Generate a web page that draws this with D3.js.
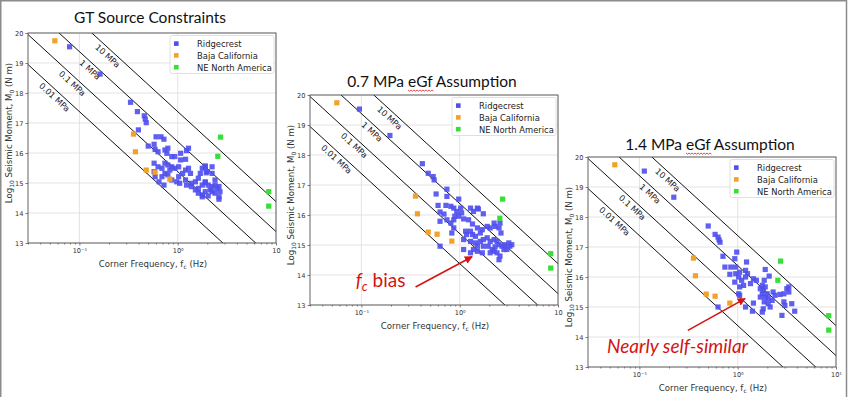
<!DOCTYPE html>
<html>
<head>
<meta charset="utf-8">
<script src="https://cdn.jsdelivr.net/npm/d3@7"></script>
<style>
  body { margin: 0; background: #fff; }
  svg { display: block; }
</style>
</head>
<body>
<script>
let w = 850;
let h = 397;
let plotW = 248;
let plotH = 210;

// each point: [log10 corner frequency (Hz), log10 seismic moment (N m)]
const gtRidgecrest = [
  [-1.10,19.54],[-0.79,18.63],[-0.48,17.69],[-0.41,17.38],[-0.34,17.24],[-0.33,17.13],[-0.32,17.01],
  [-0.40,16.77],[-0.30,16.23],[-0.22,16.54],[-0.17,16.54],[-0.14,16.46],[-0.24,16.29],[-0.23,16.12],
  [-0.20,16.04],[-0.13,16.10],[-0.10,16.16],[-0.11,15.99],[-0.06,15.88],[-0.03,15.88],[0.03,15.99],
  [0.09,16.08],[0.11,16.16],[0.08,15.79],[0.03,15.77],[-0.24,15.66],[-0.20,15.54],[-0.16,15.49],
  [-0.13,15.66],[-0.10,15.60],[-0.06,15.54],[-0.08,15.43],[-0.03,15.49],[0.01,15.54],[-0.13,15.32],
  [-0.16,15.21],[-0.10,15.27],[-0.23,15.21],[-0.24,15.38],[-0.19,15.04],[-0.14,14.93],[-0.06,15.10],
  [0.01,15.21],[0.05,15.32],[0.08,15.43],[0.11,15.49],[0.13,15.32],[0.08,15.10],[0.02,14.99],
  [-0.01,15.04],[0.09,14.93],[0.14,14.99],[0.18,15.04],[0.21,15.16],[0.23,15.32],[0.25,15.49],
  [0.28,15.54],[0.30,15.38],[0.35,15.54],[0.35,15.32],[0.14,14.88],[0.18,14.77],[0.21,14.82],
  [0.25,14.93],[0.28,15.01],[0.31,14.93],[0.35,14.88],[0.21,14.66],[0.25,14.60],[0.28,14.71],
  [0.33,14.77],[0.38,14.66],[0.42,14.54],[0.43,14.71],[0.38,15.10],[0.28,15.04],[0.38,14.93],
  [0.40,14.82],[0.42,14.88],[0.25,14.54],[0.31,14.57],[0.42,14.46],[0.35,14.71],[0.29,15.34],
  [0.28,15.57]
];

const egf07Ridgecrest = [
  [-1.02,19.53],[-0.71,18.65],[-0.38,17.71],[-0.32,17.39],[-0.27,17.28],[-0.26,17.17],[-0.24,16.70],
  [-0.22,16.32],[-0.14,16.32],[-0.13,16.62],[-0.13,16.86],[-0.20,16.10],[-0.16,16.03],[-0.20,15.79],
  [-0.20,14.96],[-0.09,16.29],[-0.06,16.23],[-0.03,16.12],[-0.01,16.53],[0.01,16.23],[-0.05,15.96],
  [-0.01,15.96],[0.02,16.07],[0.11,16.23],[0.14,16.12],[0.18,16.23],[0.19,16.20],[0.24,16.04],
  [-0.13,15.84],[-0.06,15.84],[-0.09,15.73],[0.04,15.87],[0.09,15.84],[-0.06,15.57],[-0.08,15.40],
  [0.04,15.18],[0.06,15.46],[0.11,15.46],[0.13,15.70],[0.18,15.57],[0.07,15.35],[0.13,15.35],
  [0.16,15.29],[0.21,15.40],[0.23,15.51],[0.28,15.62],[0.31,15.57],[0.35,15.73],[0.36,15.62],
  [0.40,15.57],[0.41,15.73],[0.42,15.40],[0.11,15.12],[0.16,15.07],[0.18,14.96],[0.21,15.12],
  [0.24,15.18],[0.28,15.24],[0.31,15.12],[0.35,15.18],[0.38,15.12],[0.24,14.96],[0.29,14.96],
  [0.33,14.85],[0.36,14.94],[0.40,15.01],[0.43,14.96],[0.46,15.01],[0.50,15.07],[0.51,14.96],
  [0.53,15.01],[0.45,14.85],[0.35,14.79],[0.31,14.74],[0.38,14.74],[0.41,14.63],[0.40,14.51],
  [0.23,14.74],[0.18,14.79],[0.14,14.85],[0.04,14.85],[0.11,14.74],[0.48,14.85]
];

const egf14Ridgecrest = [
  [-0.95,19.53],[-0.65,18.66],[-0.30,17.70],[-0.23,17.42],[-0.20,17.33],[-0.19,17.24],[-0.18,17.16],
  [-0.15,16.69],[-0.13,16.33],[-0.08,16.09],[-0.03,16.61],[-0.02,16.33],[-0.07,16.33],[-0.01,16.83],
  [-0.03,15.83],[-0.02,16.11],[0.02,16.16],[0.01,16.00],[0.09,16.50],[0.08,16.22],[0.10,16.11],
  [0.08,16.00],[0.04,15.89],[0.06,15.72],[0.02,15.67],[0.01,15.44],[0.02,15.39],[0.13,15.78],
  [0.16,15.94],[0.19,15.89],[0.28,16.25],[0.32,16.03],[0.27,15.89],[0.25,15.72],[0.28,15.67],
  [0.25,15.44],[0.30,15.44],[0.23,15.33],[0.28,15.33],[0.31,15.28],[0.36,15.50],[0.35,15.22],
  [0.38,15.39],[0.43,15.42],[0.47,15.44],[0.50,15.61],[0.52,15.67],[0.52,15.50],[0.55,15.11],
  [0.58,14.86],[0.47,15.17],[0.48,15.05],[0.45,14.72],[0.26,14.94],[0.31,15.11],[0.33,15.00],
  [0.27,15.17],[0.25,14.83],[0.16,15.13],[0.15,14.86],[0.08,15.00],[-0.20,15.00],[0.23,15.61],
  [0.26,15.55]
];

const bajaCalifornia = [[-1.25,19.74],[-0.45,16.63],[-0.43,16.04],[-0.32,15.43],[-0.23,15.36],[-0.08,15.13]];
const neNorthAmerica = [[0.436,16.53],[0.408,15.89],[0.926,14.71],[0.926,14.23]];

const seriesNames = ["Ridgecrest", "Baja California", "NE North America"];
const seriesColors = ["#4f4fee", "#f2a22a", "#36e036"];

// constant stress-drop lines: log10 M0 = 16.38 + log10(stress / 1 MPa) - 3 log10(fc)
const stressDrops = [0.01, 0.1, 1, 10];
const stressLabels = ["0.01 MPa", "0.1 MPa", "1 MPa", "10 MPa"];
const stressLabelLogFc = [-1.21, -1.03, -0.85, -0.67];
const moment1MPa = 16.38;

const yTicks = [13, 14, 15, 16, 17, 18, 19, 20];
const xMajor = [0.1, 1, 10];
const xMinor = [0.03,0.04,0.05,0.06,0.07,0.08,0.09,0.2,0.3,0.4,0.5,0.6,0.7,0.8,0.9,2,3,4,5,6,7,8,9];

const titles = ["GT Source Constraints", "0.7 MPa eGf Assumption", "1.4 MPa eGf Assumption"];

const panels = [
  { left: 28, top: 33, title: titles[0], titleY: -10, pts: gtRidgecrest, xLabels: ["10\u207B\u00B9", "10\u2070", "10"] },
  { left: 310, top: 95, title: titles[1], titleY: -8, pts: egf07Ridgecrest, xLabels: ["10\u207B\u00B9", "10\u2070", "10"],
    note: { text: "bias", at: [-1.058, 13.60], arrow: [[-0.449, 13.60], [0.126, 14.61]] } },
  { left: 588, top: 157, title: titles[2], titleY: -7, pts: egf14Ridgecrest, xLabels: ["10\u207B\u00B9", "10\u2070", "10\u00B9"],
    note: { text: "Nearly self-similar", at: [-1.33, 13.48], arrow: [[-0.507, 14.22], [0.075, 15.28]] } }
];

const font = "'DejaVu Sans', Verdana, sans-serif";

const svg = d3.select("body")
              .append("svg")
              .attr("width", w)
              .attr("height", h)
              .style("background-color", "white");

svg.append("defs").append("marker")
   .attr("id", "redhead")
   .attr("viewBox", "0 0 10 10")
   .attr("refX", 9).attr("refY", 5)
   .attr("markerWidth", 5).attr("markerHeight", 5)
   .attr("orient", "auto")
   .append("path")
   .attr("d", "M0,0 L10,5 L0,10 z")
   .attr("fill", "#d21414");

// slide frame
svg.append("path")
   .attr("d", "M0.75," + h + " V0.75 H846.5 V" + h)
   .attr("fill", "none")
   .attr("stroke", "#8c8c8c")
   .attr("stroke-width", 1.5);

function drawPanel(p, idx) {
  const g = svg.append("g").attr("transform", "translate(" + p.left + "," + p.top + ")");
  const x = d3.scaleLog().domain([0.03, 10]).range([0, plotW]);
  const y = d3.scaleLinear().domain([13, 20]).range([plotH, 0]);

  g.selectAll(".gy").data(yTicks).enter().append("line")
   .attr("x1", 0).attr("x2", plotW)
   .attr("y1", d => y(d)).attr("y2", d => y(d))
   .attr("stroke", "#dcdcdc").attr("stroke-width", 0.8);
  g.selectAll(".gx").data(xMajor).enter().append("line")
   .attr("x1", d => x(d)).attr("x2", d => x(d))
   .attr("y1", 0).attr("y2", plotH)
   .attr("stroke", "#dcdcdc").attr("stroke-width", 0.8);

  g.append("clipPath").attr("id", "clip" + idx)
   .append("rect").attr("width", plotW).attr("height", plotH);
  const inner = g.append("g").attr("clip-path", "url(#clip" + idx + ")");

  const line = d3.line().x(d => x(d[0])).y(d => y(d[1]));
  const m0 = (s, fc) => moment1MPa + Math.log10(s) - 3 * Math.log10(fc);
  const ang = Math.atan2(y(m0(1, 10)) - y(m0(1, 1)), x(10) - x(1)) * 180 / Math.PI;

  stressDrops.forEach((s, i) => {
    inner.append("path")
         .datum([[0.03, m0(s, 0.03)], [10, m0(s, 10)]])
         .attr("d", line)
         .attr("fill", "none")
         .attr("stroke", "#111")
         .attr("stroke-width", 1);
    const fc = Math.pow(10, stressLabelLogFc[i]);
    g.append("text")
     .attr("transform", "translate(" + x(fc) + "," + y(m0(s, fc)) + ") rotate(" + ang + ")")
     .attr("dy", "1.1em")
     .attr("text-anchor", "middle")
     .style("font-family", font)
     .style("font-size", "8.3px")
     .style("fill", "#222")
     .text(stressLabels[i]);
  });

  const groups = [p.pts, bajaCalifornia, neNorthAmerica];
  const sz = 5.2;
  groups.forEach((pts, k) => {
    inner.selectAll(".pt" + k).data(pts).enter().append("rect")
         .attr("x", d => x(Math.pow(10, d[0])) - sz / 2)
         .attr("y", d => y(d[1]) - sz / 2)
         .attr("width", sz).attr("height", sz)
         .style("fill", seriesColors[k])
         .style("opacity", k === 0 ? 0.9 : 1);
  });

  // axes
  const yAxis = d3.axisLeft(y).tickValues(yTicks).tickSize(2.5).tickPadding(2).tickFormat(d3.format("d"));
  const xAxis = d3.axisBottom(x).tickValues(xMajor).tickSize(2.5).tickPadding(3)
                  .tickFormat((d, i) => p.xLabels[i]);
  const xMinorAxis = d3.axisBottom(x).tickValues(xMinor).tickSize(1.5).tickFormat("");

  const ya = g.append("g").call(yAxis);
  const xa = g.append("g").attr("transform", "translate(0," + plotH + ")").call(xAxis);
  const xm = g.append("g").attr("transform", "translate(0," + plotH + ")").call(xMinorAxis);
  [ya, xa, xm].forEach(a => {
    a.select(".domain").remove();
    a.selectAll("line").attr("stroke", "#444").attr("stroke-width", 0.7);
    a.selectAll("text").style("font-family", font).style("font-size", "6.6px").style("fill", "#333");
  });

  g.append("rect")
   .attr("width", plotW).attr("height", plotH)
   .attr("fill", "none").attr("stroke", "#555").attr("stroke-width", 0.9);

  // axis labels
  const xl = g.append("text")
              .attr("x", plotW / 2 + 1).attr("y", plotH + 24)
              .attr("text-anchor", "middle")
              .style("font-family", font).style("font-size", "8.6px").style("fill", "#333");
  xl.append("tspan").text("Corner Frequency, f");
  xl.append("tspan").attr("baseline-shift", "-25%").style("font-size", "6px").text("c");
  xl.append("tspan").text(" (Hz)");

  const yl = g.append("text")
              .attr("transform", "translate(-16.5," + (plotH / 2 - 5) + ") rotate(-90)")
              .attr("text-anchor", "middle")
              .style("font-family", font).style("font-size", "8.6px").style("fill", "#333");
  yl.append("tspan").text("Log");
  yl.append("tspan").attr("baseline-shift", "-25%").style("font-size", "6px").text("10");
  yl.append("tspan").text(" Seismic Moment, M");
  yl.append("tspan").attr("baseline-shift", "-25%").style("font-size", "6px").text("0");
  yl.append("tspan").text(" (N m)");

  // legend
  const lg = g.append("g").attr("transform", "translate(142,2.5)");
  lg.append("rect")
    .attr("width", 104).attr("height", 38).attr("rx", 2)
    .attr("fill", "white").attr("fill-opacity", 0.85)
    .attr("stroke", "#d8d8d8").attr("stroke-width", 0.8);
  lg.selectAll(".lm").data(seriesNames).enter().append("rect")
    .attr("x", 4).attr("y", (d, i) => 5.8 + i * 11.8)
    .attr("width", 4.6).attr("height", 4.6)
    .style("fill", (d, i) => seriesColors[i]);
  lg.selectAll(".lt").data(seriesNames).enter().append("text")
    .attr("x", 27).attr("y", (d, i) => 11.5 + i * 11.8)
    .style("font-family", font).style("font-size", "8.4px").style("fill", "#222")
    .text(d => d);

  // title
  const tx = plotW / 2 - 2;
  const t = g.append("text")
             .attr("x", tx).attr("y", p.titleY)
             .attr("text-anchor", "middle")
             .style("font-family", "Lato").style("font-size", "15.5px").style("fill", "#111")
             .text(p.title);
  const k = p.title.indexOf("eGf");
  if (k >= 0) {
    const node = t.node();
    const total = node.getComputedTextLength();
    const x0 = tx - total / 2 + node.getSubStringLength(0, k);
    const len = node.getSubStringLength(k, 3);
    let d = "M" + x0 + "," + (p.titleY + 3);
    for (let s = 0; s < len; s += 1.5) {
      d += " L" + (x0 + s + 1.5) + "," + (p.titleY + 3 + ((Math.round(s / 1.5) % 2) ? 0 : 1.2));
    }
    g.append("path").attr("d", d).attr("fill", "none").attr("stroke", "#e02020").attr("stroke-width", 0.8);
  }

  // annotation
  if (p.note) {
    const a = p.note.arrow;
    g.append("line")
     .attr("x1", x(Math.pow(10, a[0][0]))).attr("y1", y(a[0][1]))
     .attr("x2", x(Math.pow(10, a[1][0]))).attr("y2", y(a[1][1]))
     .attr("stroke", "#d21414").attr("stroke-width", 1.6)
     .attr("marker-end", "url(#redhead)");
    const nt = g.append("text")
                .attr("x", x(Math.pow(10, p.note.at[0]))).attr("y", y(p.note.at[1]))
                .style("font-family", "Lato").style("font-size", "19px").style("fill", "#d21414");
    if (p.note.text === "bias") {
      nt.append("tspan").style("font-style", "italic").text("f");
      nt.append("tspan").style("font-style", "italic").style("font-size", "13px").attr("dy", 4).text("c");
      nt.append("tspan").attr("dy", -4).text(" bias");
    } else {
      nt.style("font-style", "italic").text(p.note.text);
    }
  }
}

panels.forEach(drawPanel);
</script>
</body>
</html>
